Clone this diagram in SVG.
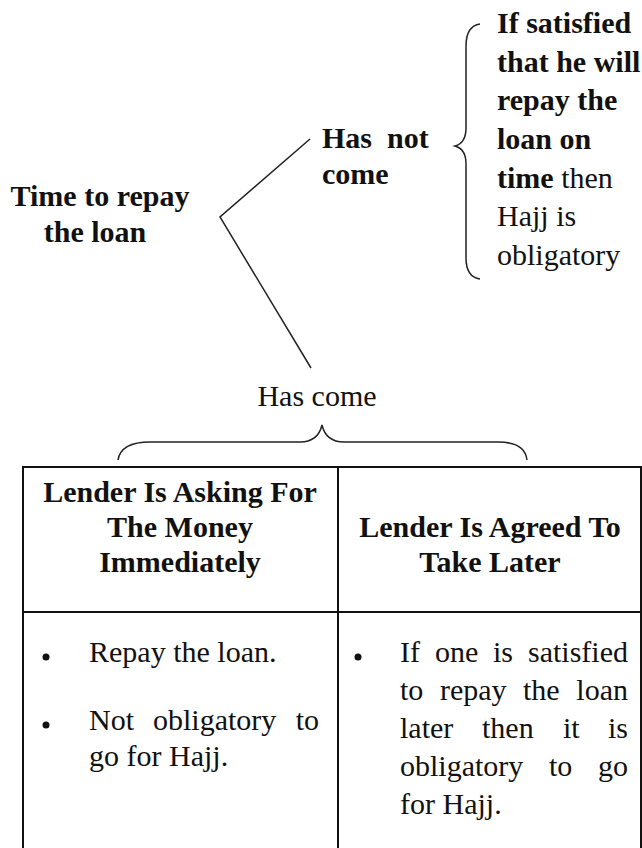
<svg xmlns="http://www.w3.org/2000/svg" width="642" height="848" viewBox="0 0 642 848">
<style>
.b{font-family:"Liberation Serif","Times New Roman",serif;font-weight:bold;font-size:30px;fill:#111}
.r{font-family:"Liberation Serif","Times New Roman",serif;font-size:30px;fill:#111}
.e{text-anchor:end}
.ln{fill:none;stroke:#222;stroke-width:1.5}
.tb{fill:none;stroke:#111;stroke-width:2}
</style>
<rect width="642" height="848" fill="#fff"/>
<g id="connectors">
<path class="ln" d="M310,139 L220,217 L311,368"/>
<path class="ln" d="M480,24 Q466,26 466,46 L466,128 Q466,143 455,146 Q466,149 466,164 L466,258 Q466,277 480,279"/>
<path class="ln" d="M118,460 Q121,442 150,442 L300,442 Q318,442 322,425 Q326,442 344,442 L498,442 Q525,442 527,460"/>
</g>
<g id="root">
<text class="b" x="100" y="206" text-anchor="middle">Time to repay</text>
<text class="b" x="95" y="242" text-anchor="middle">the loan</text>
</g>
<g id="not-come">
<text class="b" x="322" y="148" xml:space="preserve">Has  not</text>
<text class="b" x="322" y="184">come</text>
</g>
<g id="not-come-result">
<text class="b" x="497" y="33">If satisfied</text>
<text class="b" x="497" y="72">that he will</text>
<text class="b" x="497" y="110">repay the</text>
<text class="b" x="497" y="149">loan on</text>
<text x="497" y="188"><tspan class="b">time</tspan><tspan class="r"> then</tspan></text>
<text class="r" x="497" y="226">Hajj is</text>
<text class="r" x="497" y="265">obligatory</text>
</g>
<g id="has-come">
<text class="r" x="317" y="406" text-anchor="middle">Has come</text>
</g>
<g id="table">
<path class="tb" d="M23,848 L23,467 L641,467 L641,848 M338,467 L338,848 M23,612 L641,612"/>
</g>
<g id="col-left">
<text class="b" x="180" y="502" text-anchor="middle">Lender Is Asking For</text>
<text class="b" x="180" y="537" text-anchor="middle">The Money</text>
<text class="b" x="180" y="572" text-anchor="middle">Immediately</text>
<circle cx="46" cy="657" r="3.5" fill="#111"/>
<text class="r" x="89" y="662">Repay the loan.</text>
<circle cx="46" cy="725" r="3.5" fill="#111"/>
<text class="r" x="89" y="730">Not</text>
<text class="r" x="153" y="730">obligatory</text>
<text class="r e" x="319" y="730">to</text>
<text class="r" x="89" y="766">go for Hajj.</text>
</g>
<g id="col-right">
<text class="b" x="490" y="537" text-anchor="middle">Lender Is Agreed To</text>
<text class="b" x="490" y="572" text-anchor="middle">Take Later</text>
<circle cx="358" cy="657" r="3.5" fill="#111"/>
<text class="r" x="400" y="662">If</text>
<text class="r" x="435" y="662">one</text>
<text class="r" x="493" y="662">is</text>
<text class="r e" x="628" y="662">satisfied</text>
<text class="r" x="400" y="700">to</text>
<text class="r" x="440" y="700">repay</text>
<text class="r" x="523" y="700">the</text>
<text class="r e" x="628" y="700">loan</text>
<text class="r" x="400" y="738">later</text>
<text class="r" x="482" y="738">then</text>
<text class="r" x="563" y="738">it</text>
<text class="r e" x="628" y="738">is</text>
<text class="r" x="400" y="776">obligatory</text>
<text class="r" x="549" y="776">to</text>
<text class="r e" x="628" y="776">go</text>
<text class="r" x="400" y="814">for Hajj.</text>
</g>
</svg>
